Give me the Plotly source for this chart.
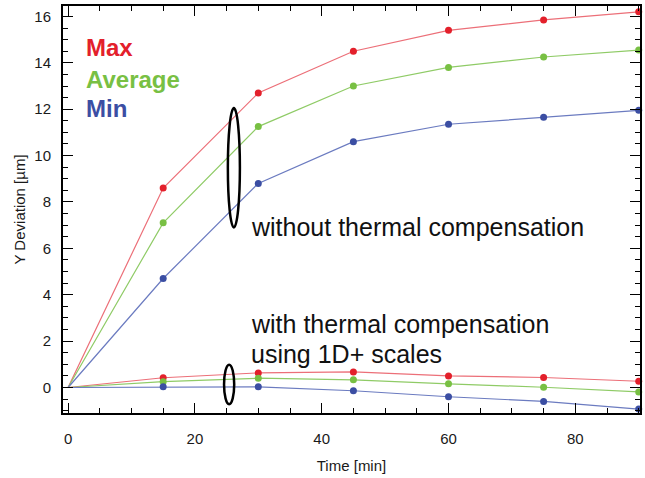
import plotly.graph_objects as go

time_min = [0, 15, 30, 45, 60, 75, 90]
max_without = [0, 8.6, 12.7, 14.5, 15.4, 15.85, 16.2]
avg_without = [0, 7.1, 11.25, 13.0, 13.8, 14.25, 14.55]
min_without = [0, 4.7, 8.8, 10.6, 11.35, 11.65, 11.95]
max_with = [0, 0.42, 0.63, 0.67, 0.5, 0.43, 0.27]
avg_with = [0, 0.25, 0.4, 0.33, 0.16, 0.01, -0.19]
min_with = [0, 0.03, 0.03, -0.14, -0.4, -0.6, -0.93]

x_ticks = [0, 20, 40, 60, 80]
x_tick_labels = ["0", "20", "40", "60", "80"]
y_ticks = [0, 2, 4, 6, 8, 10, 12, 14, 16]
y_tick_labels = ["0", "2", "4", "6", "8", "10", "12", "14", "16"]

RED = "#e3202b"
GREEN = "#78c043"
BLUE = "#3b4ea3"
RED_L = "#ec6f78"
GREEN_L = "#8fcb66"
BLUE_L = "#6b7bc0"

fig = go.Figure()
series = [
    (max_without, RED, RED_L), (avg_without, GREEN, GREEN_L), (min_without, BLUE, BLUE_L),
    (max_with, RED, RED_L), (avg_with, GREEN, GREEN_L), (min_with, BLUE, BLUE_L),
]
for ys, c, lc in series:
    fig.add_trace(go.Scatter(
        x=time_min, y=ys, mode="lines",
        line=dict(color=lc, width=1.2), showlegend=False, hoverinfo="skip"))
    fig.add_trace(go.Scatter(
        x=time_min[1:], y=ys[1:], mode="markers", cliponaxis=False,
        marker=dict(color=c, size=7), showlegend=False))

# invisible carrier traces so the label axes (x2, y2) are drawn
fig.add_trace(go.Scatter(x=time_min, y=min_with, xaxis="x2", mode="markers",
                         marker=dict(opacity=0), showlegend=False, hoverinfo="skip"))
fig.add_trace(go.Scatter(x=time_min, y=min_with, yaxis="y2", mode="markers",
                         marker=dict(opacity=0), showlegend=False, hoverinfo="skip"))

FONT = "Liberation Sans, Arial"
tick_font = dict(family=FONT, size=15, color="#1a1a1a")
title_font = dict(family=FONT, size=15, color="#1a1a1a")
X_RANGE = [-0.8, 90.2]
Y_RANGE = [-1.1, 16.45]

fig.update_layout(
    xaxis=dict(
        range=X_RANGE, tickvals=x_ticks, showticklabels=False,
        showline=True, linecolor="black", linewidth=2, mirror="ticks",
        ticks="inside", tickcolor="black", tickwidth=1.3, ticklen=10,
        minor=dict(dtick=5, ticks="inside", ticklen=5, tickcolor="black", tickwidth=1.2),
        showgrid=False, zeroline=False),
    xaxis2=dict(
        overlaying="x", anchor="y", side="bottom",
        range=X_RANGE, tickvals=x_ticks, ticktext=x_tick_labels,
        ticks="outside", ticklen=12, tickcolor="rgba(0,0,0,0)",
        showline=False, showgrid=False, zeroline=False, tickfont=tick_font,
        title=dict(text="Time [min]", font=title_font, standoff=14)),
    yaxis=dict(
        range=Y_RANGE, tickvals=y_ticks, showticklabels=False,
        showline=True, linecolor="black", linewidth=2, mirror="ticks",
        ticks="inside", tickcolor="black", tickwidth=1.3, ticklen=10,
        minor=dict(dtick=0.5, ticks="inside", ticklen=5, tickcolor="black", tickwidth=1.2),
        showgrid=False, zeroline=False),
    yaxis2=dict(
        overlaying="y", anchor="x", side="left",
        range=Y_RANGE, tickvals=y_ticks, ticktext=y_tick_labels,
        ticks="outside", ticklen=8, tickcolor="rgba(0,0,0,0)",
        showline=False, showgrid=False, zeroline=False, tickfont=tick_font,
        title=dict(text="Y Deviation [µm]", font=title_font, standoff=5)),
)

fig.add_shape(type="circle", xref="x", yref="y", x0=25.2, x1=27.1, y0=6.9, y1=12.05,
              line=dict(color="black", width=2.5))
fig.add_shape(type="circle", xref="x", yref="y", x0=24.6, x1=26.2, y0=-0.72, y1=0.98,
              line=dict(color="black", width=2.5))

legend_items = [("Max", RED, 14.65), ("Average", GREEN, 13.3), ("Min", BLUE, 12.05)]
for txt, c, yv in legend_items:
    fig.add_annotation(x=2.5, y=yv, xref="x", yref="y", text="<b>%s</b>" % txt,
                       showarrow=False, xanchor="left",
                       font=dict(family=FONT, size=24, color=c))

txt_font = dict(family=FONT, size=25, color="#111")
fig.add_annotation(x=28.5, y=6.9, xref="x", yref="y", text="without thermal compensation",
                   showarrow=False, xanchor="left", font=txt_font)
fig.add_annotation(x=28.5, y=2.72, xref="x", yref="y", text="with thermal compensation",
                   showarrow=False, xanchor="left", font=txt_font)
fig.add_annotation(x=28.5, y=1.45, xref="x", yref="y", text="using 1D+ scales",
                   showarrow=False, xanchor="left", font=txt_font)

fig.update_layout(
    width=645, height=478,
    margin=dict(l=63, r=5, t=6, b=65, autoexpand=False),
    paper_bgcolor="white", plot_bgcolor="white",
    showlegend=False,
)
fig.write_html("out.html", config={"displayModeBar": False},
               post_script="document.body.style.margin='0';")
